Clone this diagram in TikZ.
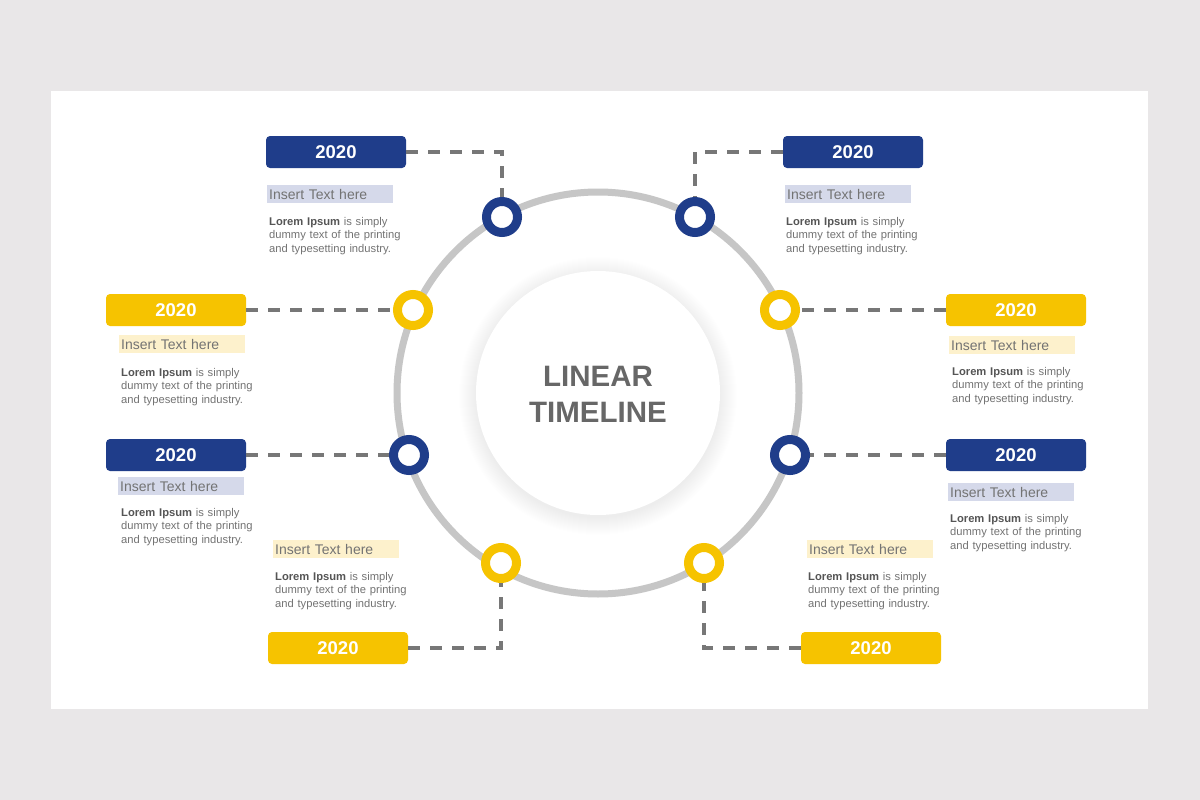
\documentclass[tikz,border=0pt]{standalone}
\usepackage{fontspec}
\setmainfont{Liberation Sans}
\usepackage{tikz}
\usetikzlibrary{positioning}

\definecolor{tlblue}{HTML}{1F3D8A}
\definecolor{tlyellow}{HTML}{F6C300}
\definecolor{tlpaleblue}{HTML}{D5D9EA}
\definecolor{tlpaleyellow}{HTML}{FDF1CC}
\definecolor{tlring}{HTML}{C6C6C6}
\definecolor{tldash}{HTML}{777777}
\definecolor{tltext}{HTML}{737373}
\definecolor{tldark}{HTML}{555555}
\definecolor{tltitle}{HTML}{676767}
\definecolor{tlback}{HTML}{E9E7E8}

\newcommand{\loremblurb}{{\color{tldark}\bfseries Lorem Ipsum} is simply\\dummy text of the printing\\and typesetting industry.}

\tikzset{
  yearbox/.style={rounded corners=4pt, minimum width=140pt, minimum height=32pt,
    inner sep=0pt, text=white, font=\bfseries\fontsize{18.5}{22}\selectfont},
  blueyear/.style={yearbox, fill=tlblue},
  yellowyear/.style={yearbox, fill=tlyellow},
  knot/.style={circle, fill=white, line width=9pt, minimum size=31pt, inner sep=0pt},
  blueknot/.style={knot, draw=tlblue},
  yellowknot/.style={knot, draw=tlyellow},
  insertbox/.style={anchor=north west, minimum height=18pt, text width=122pt,
    inner xsep=2pt, inner ysep=0pt, align=left, text=tltext,
    font=\fontsize{14}{16}\selectfont},
  loremtext/.style={anchor=base west, inner sep=0pt, text width=150pt, align=left,
    text=tltext, font=\fontsize{11.2}{13.5}\selectfont},
  link/.style={draw=tldash, line width=3.2pt, dash pattern=on 12pt off 10pt},
}

\begin{document}
\begin{tikzpicture}[x=1pt, y=-1pt]
% page and slide
\fill[tlback] (0,0) rectangle (1200,800);
\useasboundingbox (0,0) rectangle (1200,800);
\fill[white] (51,91) rectangle (1148,709);

% centre disc with soft shadow
\foreach \r in {1,...,18}
  \fill[black, opacity=0.005] (598,396) circle[radius=121pt+\r pt];
\node[circle, fill=white, minimum size=244pt, inner sep=0pt] (hub) at (598,393) {};
\node[align=center, text=tltitle, font=\bfseries\fontsize{29.5}{36}\selectfont]
  (title) at (598,394.5) {LINEAR\\TIMELINE};

% ring
\draw[tlring, line width=7pt] (598,393) circle[radius=201pt];

% knots and year boxes
\foreach \n/\mx/\my/\bx/\by in {tl/502/217/336/152, tr/695/217/853/152,
                                lb/409/455/176/455, rb/790/455/1016/455}{
  \node[blueknot] (k\n) at (\mx,\my) {};
  \node[blueyear] (y\n) at (\bx,\by) {2020};
}
\foreach \n/\mx/\my/\bx/\by in {ly/413/310/176/310, ry/780/310/1016/310,
                                bl/501/563/338/648, br/704/563/871/648}{
  \node[yellowknot] (k\n) at (\mx,\my) {};
  \node[yellowyear] (y\n) at (\bx,\by) {2020};
}

% dashed links
\draw[link] (ytl.east) -| (ktl.north);
\draw[link] (ytr.west) -| (ktr.north);
\draw[link] (yly.east) -- (kly.west);
\draw[link] (yry.west) -- (kry.east);
\draw[link] (ylb.east) -- (klb.west);
\draw[link] (yrb.west) -- (krb.east);
\draw[link] (ybl.east) -| (kbl.south);
\draw[link] (ybr.west) -| (kbr.south);

% texts
\foreach \n/\ix/\iy/\lx/\ly in {tl/267/185/269/225, tr/785/185/786/225,
                                lb/118/477/121/516, rb/948/483/950/522}{
  \node[insertbox, fill=tlpaleblue] (i\n) at (\ix,\iy) {Insert Text here};
  \node[loremtext] (t\n) at (\lx,\ly) {\loremblurb};
}
\foreach \n/\ix/\iy/\lx/\ly in {ly/119/335/121/376, ry/949/336/952/375,
                                bl/273/540/275/580, br/807/540/808/580}{
  \node[insertbox, fill=tlpaleyellow] (i\n) at (\ix,\iy) {Insert Text here};
  \node[loremtext] (t\n) at (\lx,\ly) {\loremblurb};
}
\end{tikzpicture}
\end{document}
